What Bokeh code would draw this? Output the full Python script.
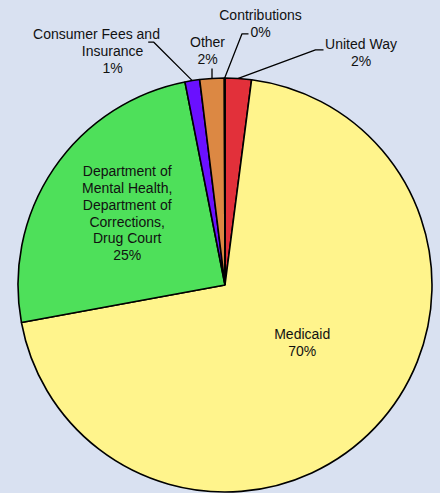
import numpy as np
from bokeh.plotting import figure
from bokeh.models import ColumnDataSource, Range1d, GlobalInlineStyleSheet
from bokeh.core.properties import value
from bokeh.embed import file_html
from bokeh.resources import INLINE

# ---- data (clockwise from 12 o'clock) ----
categories = ["United Way", "Medicaid",
              "Department of\nMental Health,\nDepartment of\nCorrections,\nDrug Court",
              "Consumer Fees and\nInsurance", "Other", "Contributions"]
shares = [2.05, 70.05, 24.8, 1.15, 1.9, 0.05]
colors = ["#e2303a", "#fff48c", "#4ee05a", "#6a10ff", "#dc8843", "#e2303a"]

BG = "#d9e1f1"
W, H = 440, 493

def sx(x):  # screen px -> data x
    return x

def sy(y):  # screen px -> data y
    return H - y

cx, cy, R = sx(224.5), sy(284.5), 207.0

vals = np.array(shares, dtype=float)
cum = np.concatenate([[0.0], np.cumsum(vals)]) / vals.sum()
start = np.pi / 2 - 2 * np.pi * cum[:-1]
end = np.pi / 2 - 2 * np.pi * cum[1:]
mid = (start + end) / 2

src = ColumnDataSource(dict(start=start, end=end, color=colors))

p = figure(width=W, height=H, x_range=Range1d(0, W), y_range=Range1d(0, H),
           x_axis_type=None, y_axis_type=None, toolbar_location=None,
           output_backend="svg", min_border=0,
           background_fill_color=BG, border_fill_color=BG,
           outline_line_color=None)
p.grid.visible = False
p.stylesheets = [GlobalInlineStyleSheet(css=f"body {{ background: {BG}; }}")]

p.wedge(x=cx, y=cy, radius=R, start_angle="start", end_angle="end",
        direction="clock", fill_color="color", line_color="black",
        line_width=1.6, source=src)

# ---- labels ----
pct = [f"{int(round(v))}%" for v in shares]
label_text = [f"{c}\n{q}" for c, q in zip(categories, pct)]
# label block centers (screen px) in the same order as categories
lab_x = [360.5, 301.7, 126.7, 112.0, 207.0, 260.0]
lab_y = [51.7, 342.0, 212.7, 50.5, 50.3, 23.0]
first_line_dx = [0, 0, 0, -16.0, 0, 0]
LH = 16.7

tx, ty, tt = [], [], []
for k, txt in enumerate(label_text):
    lines = txt.split("\n")
    n = len(lines)
    for i, line in enumerate(lines):
        dx = first_line_dx[k] if i == 0 else 0.0
        tx.append(sx(lab_x[k] + dx))
        ty.append(sy(lab_y[k] + (i - (n - 1) / 2) * LH))
        tt.append(line)

p.text(x=tx, y=ty, text=tt,
       text_font=value("Liberation Sans"), text_font_size="14px",
       text_color="#111111", text_align="center", text_baseline="middle")

# ---- leader lines: elbow points (screen px) then to slice edge ----
def edge(i):
    return cx + R * np.cos(mid[i]), cy + R * np.sin(mid[i])

leaders = {
    0: [(323.0, 49.3), (315.0, 49.3)],
    3: [(147.7, 41.7), (153.3, 41.7)],
    5: [(248.0, 33.3), (241.5, 33.3)],
}
xs, ys = [], []
for i, pts in leaders.items():
    ex, ey = edge(i)
    xs.append([sx(a) for a, _ in pts] + [ex])
    ys.append([sy(b) for _, b in pts] + [ey])
ex, ey = edge(4)
xs.append([ex, ex])
ys.append([sy(68.0), ey])
p.multi_line(xs=xs, ys=ys, line_color="black", line_width=1.3)

open("out.html", "w").write(file_html(p, INLINE))
